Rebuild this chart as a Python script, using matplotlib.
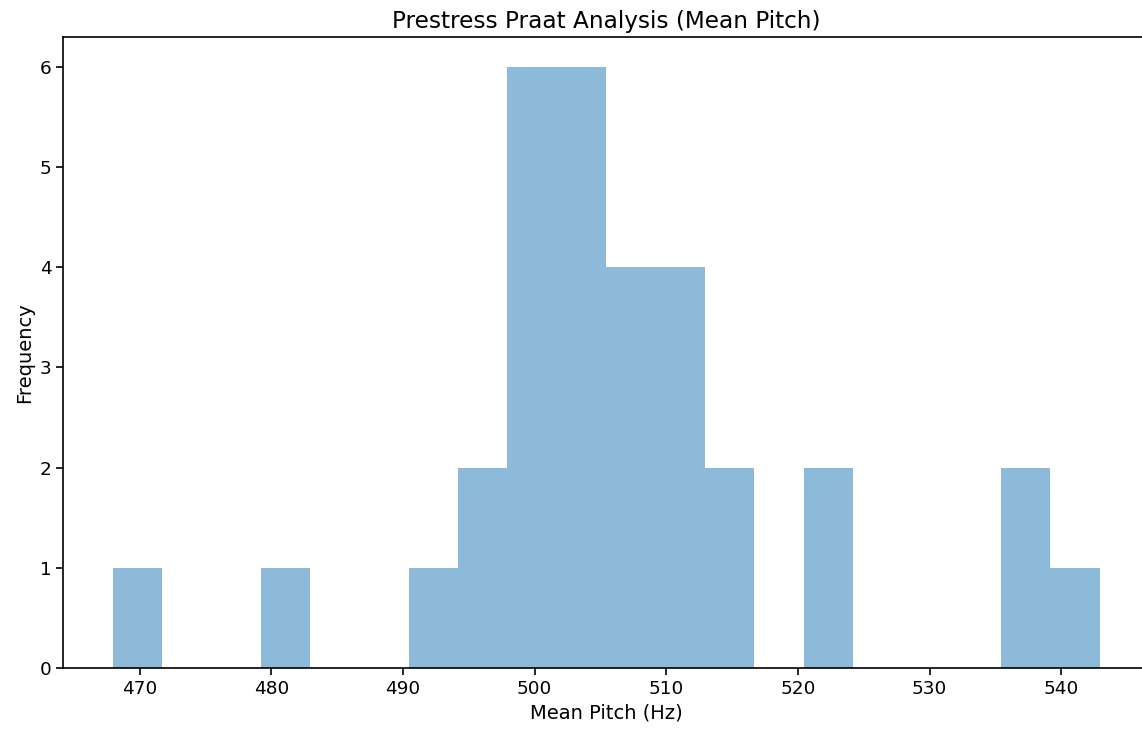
import matplotlib
matplotlib.use('Agg')
import matplotlib.pyplot as plt
import numpy as np

# histogram of mean pitch values (20 bins)
pitch_min = 467.95
pitch_max = 542.92
counts = [1, 0, 0, 1, 0, 0, 1, 2, 6, 6, 4, 4, 2, 0, 2, 0, 0, 0, 2, 1]

edges = np.linspace(pitch_min, pitch_max, len(counts) + 1)
centers = (edges[:-1] + edges[1:]) / 2

fig = plt.figure(figsize=(11.42, 7.29), dpi=100)
# the right spine sits just past the image edge in the reference
ax = fig.add_axes([63.3 / 1142, 1 - 668 / 729, (1149 - 63.3) / 1142, (668 - 36.7) / 729])

# stepfilled -> one polygon, so no seams between neighbouring bins
ax.hist(centers, bins=edges, weights=counts, alpha=0.5, histtype='stepfilled')

ax.set_title('Prestress Praat Analysis (Mean Pitch)', fontsize=16.7)
ax.set_xlabel('Mean Pitch (Hz)', fontsize=14)
ax.set_ylabel('Frequency', fontsize=14)
ax.tick_params(labelsize=13.3, width=1.2, length=5)
for s in ax.spines.values():
    s.set_linewidth(1.2)

fig.savefig('out.png', dpi=100)
